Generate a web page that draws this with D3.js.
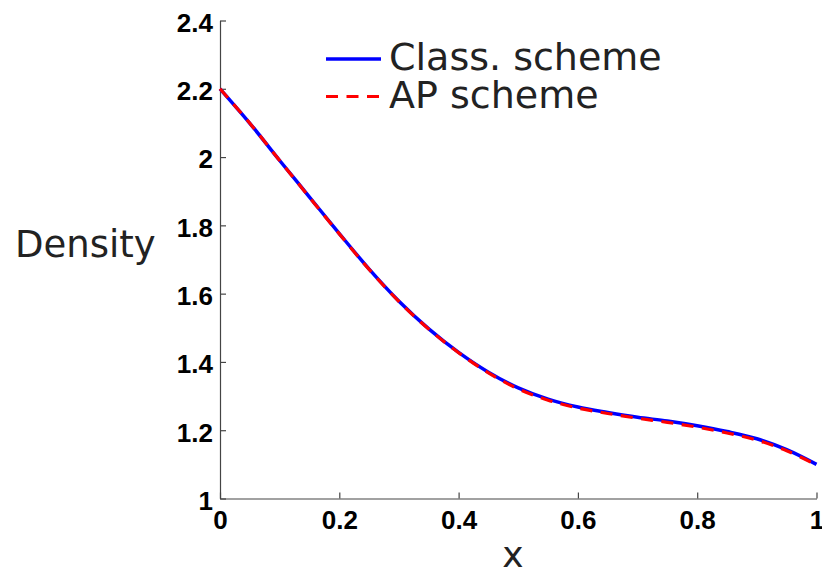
<!DOCTYPE html>
<html>
<head>
<meta charset="utf-8">
<script src="https://cdn.jsdelivr.net/npm/d3@7"></script>
<style>
  body { margin: 0; background: #fff; }
  svg { display: block; }
</style>
</head>
<body>
<script>
// Data
var xs = [0, 0.05, 0.1, 0.15, 0.2, 0.25, 0.3, 0.35, 0.4, 0.45, 0.5,
          0.55, 0.6, 0.65, 0.7, 0.75, 0.8, 0.85, 0.9, 0.95, 1];
var classDensity = [2.200, 2.099, 1.990, 1.883, 1.776, 1.672, 1.578, 1.497, 1.428, 1.370, 1.324,
                    1.291, 1.268, 1.252, 1.238, 1.227, 1.213, 1.196, 1.175, 1.143, 1.100];
var apDensity = [2.200, 2.099, 1.990, 1.882, 1.775, 1.671, 1.577, 1.496, 1.427, 1.368, 1.321,
                 1.288, 1.265, 1.249, 1.235, 1.223, 1.209, 1.192, 1.171, 1.140, 1.098];
var xTicks = [0, 0.2, 0.4, 0.6, 0.8, 1];
var yTicks = [1, 1.2, 1.4, 1.6, 1.8, 2, 2.2, 2.4];
var xTickLabels = ["0", "0.2", "0.4", "0.6", "0.8", "1"];
var yTickLabels = ["1", "1.2", "1.4", "1.6", "1.8", "2", "2.2", "2.4"];
var seriesNames = ["Class. scheme", "AP scheme"];

var svgWidth = 822;
var svgHeight = 568;

var margin = { top: 20.5, right: 5.5, bottom: 69.5, left: 220 };
var chartWidth = svgWidth - margin.left - margin.right;
var chartHeight = svgHeight - margin.top - margin.bottom;

var svg = d3.select("body")
  .append("svg")
  .attr("width", svgWidth)
  .attr("height", svgHeight);

var x = d3.scaleLinear().domain([0, 1]).range([0, chartWidth]);
var y = d3.scaleLinear().domain([1, 2.4]).range([chartHeight, 0]);

var focus = svg.append("g")
  .attr("transform", "translate(" + margin.left + "," + margin.top + ")");

var tickFont = "'Liberation Sans', Arial, sans-serif";
var labelFont = "'DejaVu Sans', 'Noto Sans', sans-serif";

// x axis (ticks pointing inward)
var xAxis = d3.axisBottom(x)
  .tickValues(xTicks)
  .tickSizeInner(-6)
  .tickSizeOuter(0)
  .tickPadding(17)
  .tickFormat(function(d, i) { return xTickLabels[i]; });

var gx = focus.append("g")
  .attr("transform", "translate(0," + chartHeight + ")")
  .call(xAxis);

// y axis (ticks pointing inward)
var yAxis = d3.axisLeft(y)
  .tickValues(yTicks)
  .tickSizeInner(-6)
  .tickSizeOuter(0)
  .tickPadding(7)
  .tickFormat(function(d, i) { return yTickLabels[i]; });

var gy = focus.append("g").call(yAxis);

[gx, gy].forEach(function(g) {
  g.select(".domain").attr("stroke", "#444").attr("stroke-width", 1.2);
  g.selectAll(".tick line").attr("stroke", "#444").attr("stroke-width", 1.2);
  g.selectAll(".tick text")
    .attr("fill", "#000")
    .style("font-family", tickFont)
    .style("font-weight", "bold")
    .style("font-size", "26px");
});
gy.selectAll(".tick text").attr("dy", "0.42em");
gx.selectAll(".tick text").attr("dy", "0.5em");

var line = d3.line()
  .x(function(d) { return x(d[0]); })
  .y(function(d) { return y(d[1]); })
  .curve(d3.curveCatmullRom);

var classData = xs.map(function(v, i) { return [v, classDensity[i]]; });
var apData = xs.map(function(v, i) { return [v, apDensity[i]]; });

focus.append("path")
  .datum(classData)
  .attr("fill", "none")
  .attr("stroke", "#0000ff")
  .attr("stroke-width", 3.5)
  .attr("stroke-linejoin", "round")
  .attr("d", line);

focus.append("path")
  .datum(apData)
  .attr("fill", "none")
  .attr("stroke", "#ff0000")
  .attr("stroke-width", 3.2)
  .attr("stroke-dasharray", "12,8.5")
  .attr("d", line);

// axis labels
svg.append("text")
  .attr("x", 513)
  .attr("y", 567)
  .attr("text-anchor", "middle")
  .style("font-family", labelFont)
  .style("font-size", "36px")
  .attr("fill", "#222")
  .text("x");

svg.append("text")
  .attr("x", 15)
  .attr("y", 257)
  .style("font-family", labelFont)
  .style("font-size", "37px")
  .attr("fill", "#222")
  .text("Density");

// legend
var legend = svg.append("g");
var legendStyles = [
  { color: "#0000ff", dash: null, width: 3.5 },
  { color: "#ff0000", dash: "12,8.5", width: 3.2 }
];
seriesNames.forEach(function(name, i) {
  var yy = 59 + i * 37.5;
  legend.append("line")
    .attr("x1", 326).attr("x2", 381)
    .attr("y1", yy).attr("y2", yy)
    .attr("stroke", legendStyles[i].color)
    .attr("stroke-width", legendStyles[i].width)
    .attr("stroke-dasharray", legendStyles[i].dash);
  legend.append("text")
    .attr("x", 389)
    .attr("y", yy + 11)
    .style("font-family", labelFont)
    .style("font-size", "38px")
    .attr("fill", "#222")
    .text(name);
});
</script>
</body>
</html>
